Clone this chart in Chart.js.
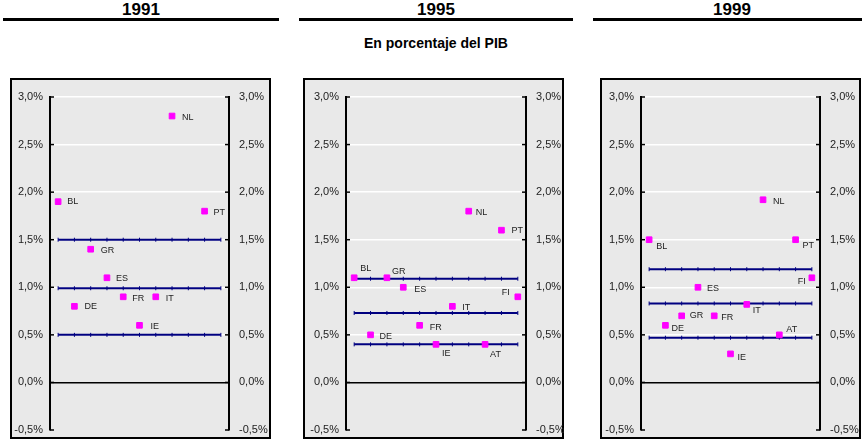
<!DOCTYPE html>
<html>
<head>
<meta charset="utf-8">
<script src="https://cdn.jsdelivr.net/npm/chart.js@4"></script>
<style>
    body { margin: 0; background: #fff; font-family: Arial, 'Liberation Sans', sans-serif; }
    .title { position: absolute; top: 0; height: 18px; font-size: 17px; font-weight: bold; text-align: center; line-height: 20px; color: #000; }
    .rule { position: absolute; top: 18px; height: 3px; background: #000; }
    .sub { position: absolute; top: 35px; left: 282px; width: 308px; text-align: center; font-size: 14px; font-weight: bold; }
    .box { position: absolute; top: 78px; height: 361px; box-sizing: border-box; border: 2px solid #000; background: #e9e9e9; }
    canvas { position: absolute; top: 78px; }
</style>
</head>
<body>
<div class="sub">En porcentaje del PIB</div>

<script>
const categories = ['BL', 'DE', 'GR', 'ES', 'FR', 'IE', 'IT', 'NL', 'AT', 'PT', 'FI']
const years = ['1991', '1995', '1999']

const values1991 = [1.9, 0.8, 1.4, 1.1, 0.9, 0.6, 0.9, 2.8, null, 1.8, null]
const values1995 = [1.1, 0.5, 1.1, 1.0, 0.6, 0.4, 0.8, 1.8, 0.4, 1.6, 0.9]
const values1999 = [1.5, 0.6, 0.7, 1.0, 0.7, 0.3, 0.82, 1.92, 0.5, 1.5, 1.1]

// horizontal reference levels per year
const refLines1991 = [1.5, 0.99, 0.5]
const refLines1995 = [1.09, 0.73, 0.40]
const refLines1999 = [1.19, 0.83, 0.47]

const yTicks = [-0.5, 0, 0.5, 1.0, 1.5, 2.0, 2.5, 3.0]

// label offsets [dx, dy] from each marker (negative dx = text to the left)
const labelPos1991 = [[9, 0], [10, 0], [10, 1], [9, 1], [9, 2], [11, 1], [10, 2], [10, 1], [0, 0], [9, 1], [0, 0]]
const labelPos1995 = [[6, -9], [9, 2], [5, -6], [11, 2], [10, 2], [6, 9], [10, 1], [7, 1], [5, 10], [10, 0], [-8, -4]]
const labelPos1999 = [[7, 7], [6, 3], [8, 0], [9, 1], [7, 2], [7, 4], [6, 6], [10, 2], [7, -5], [7, 6], [-6, 4]]

// page geometry of each panel
const panels = [
    { left: 10, axisL: 50, axisR: 229, right: 271, rule: [3, 279] },
    { left: 303, axisL: 346, axisR: 526, right: 564, rule: [299, 573] },
    { left: 600, axisL: 641, axisR: 820, right: 861, rule: [593, 871] },
]

const fmt = v => (Math.round(v * 10) / 10).toFixed(1).replace('.', ',') + '%'

const pointLabels = {
    id: 'pointLabels',
    afterDatasetsDraw(chart, args, opts) {
        const ctx = chart.ctx
        const meta = chart.getDatasetMeta(0)
        ctx.save()
        ctx.font = '9px Arial, "Liberation Sans"'
        ctx.fillStyle = '#222'
        ctx.textBaseline = 'middle'
        meta.data.forEach((pt, i) => {
            if (chart.data.datasets[0].data[i] === null) return
            const [dx, dy] = opts.offsets[i]
            ctx.textAlign = dx < 0 ? 'right' : 'left'
            ctx.fillText(categories[i], pt.x + dx, pt.y + dy)
        })
        ctx.restore()
    }
}

const innerTicks = {
    id: 'innerTicks',
    afterDraw(chart) {
        const { ctx, chartArea } = chart
        ctx.save()
        ctx.strokeStyle = '#000'
        ctx.lineWidth = 1.5
        ;['y', 'yRight'].forEach(id => {
            const s = chart.scales[id]
            const x = id === 'y' ? chartArea.left : chartArea.right
            const dir = id === 'y' ? 1 : -1
            s.ticks.forEach(t => {
                const y = s.getPixelForValue(t.value)
                ctx.beginPath()
                ctx.moveTo(x, y)
                ctx.lineTo(x + 4 * dir, y)
                ctx.stroke()
            })
        })
        ctx.restore()
    }
}

const yAxis = (position, widthPx) => ({
    type: 'linear',
    position: position,
    min: -0.5,
    max: 3.0,
    afterBuildTicks: scale => { scale.ticks = yTicks.map(v => ({ value: v })) },
    afterFit: scale => {
        scale.width = widthPx
        scale.paddingTop = 0
        scale.paddingBottom = 0
    },
    border: { display: true, color: '#000', width: 2 },
    grid: {
        drawOnChartArea: position === 'left',
        drawTicks: false,
        color: c => Math.abs(c.tick.value) < 1e-6 ? '#000' : (c.tick.value < 0 ? 'rgba(0,0,0,0)' : '#fff'),
        lineWidth: 1.5,
    },
    ticks: {
        padding: position === 'left' ? 7 : 10,
        color: '#222',
        font: { family: 'Arial, "Liberation Sans"', size: 11 },
        callback: v => fmt(v),
    },
})

const makePanel = (idx, values, refLines, labelPos) => {
    const p = panels[idx]
    const w = p.right - p.left

    const title = document.createElement('div')
    title.className = 'title'
    title.style.left = p.rule[0] + 'px'
    title.style.width = (p.rule[1] - p.rule[0]) + 'px'
    title.textContent = years[idx]
    document.body.appendChild(title)

    const rule = document.createElement('div')
    rule.className = 'rule'
    rule.style.left = p.rule[0] + 'px'
    rule.style.width = (p.rule[1] - p.rule[0]) + 'px'
    document.body.appendChild(rule)

    const box = document.createElement('div')
    box.className = 'box'
    box.style.left = p.left + 'px'
    box.style.width = w + 'px'
    document.body.appendChild(box)

    const canvas = document.createElement('canvas')
    canvas.width = w
    canvas.height = 361
    canvas.style.left = p.left + 'px'
    document.body.appendChild(canvas)

    const lineSets = refLines.map(level => ({
        data: categories.map(() => level),
        yAxisID: 'y',
        borderColor: '#000080',
        borderWidth: 2,
        pointStyle: 'line',
        rotation: 90,
        pointRadius: 2,
        pointBorderWidth: 1,
        pointBorderColor: '#000080',
        fill: false,
        order: 1,
    }))

    new Chart(canvas.getContext('2d'), {
        type: 'line',
        data: {
            labels: categories,
            datasets: [{
                data: values,
                yAxisID: 'y',
                showLine: false,
                pointStyle: 'rect',
                pointRadius: 4,
                pointBorderWidth: 1,
                pointBackgroundColor: '#ff00ff',
                pointBorderColor: '#ff00ff',
                order: 0,
            }].concat(lineSets)
        },
        options: {
            responsive: false,
            animation: false,
            clip: false,
            layout: { padding: { top: 19, bottom: 9, left: 0, right: 0 } },
            plugins: {
                legend: { display: false },
                tooltip: { enabled: false },
                pointLabels: { offsets: labelPos },
            },
            scales: {
                x: { type: 'category', display: false, offset: true },
                y: yAxis('left', p.axisL - p.left),
                yRight: yAxis('right', p.right - p.axisR),
            }
        },
        plugins: [pointLabels, innerTicks]
    })
}

makePanel(0, values1991, refLines1991, labelPos1991)
makePanel(1, values1995, refLines1995, labelPos1995)
makePanel(2, values1999, refLines1999, labelPos1999)
</script>
</body>
</html>
